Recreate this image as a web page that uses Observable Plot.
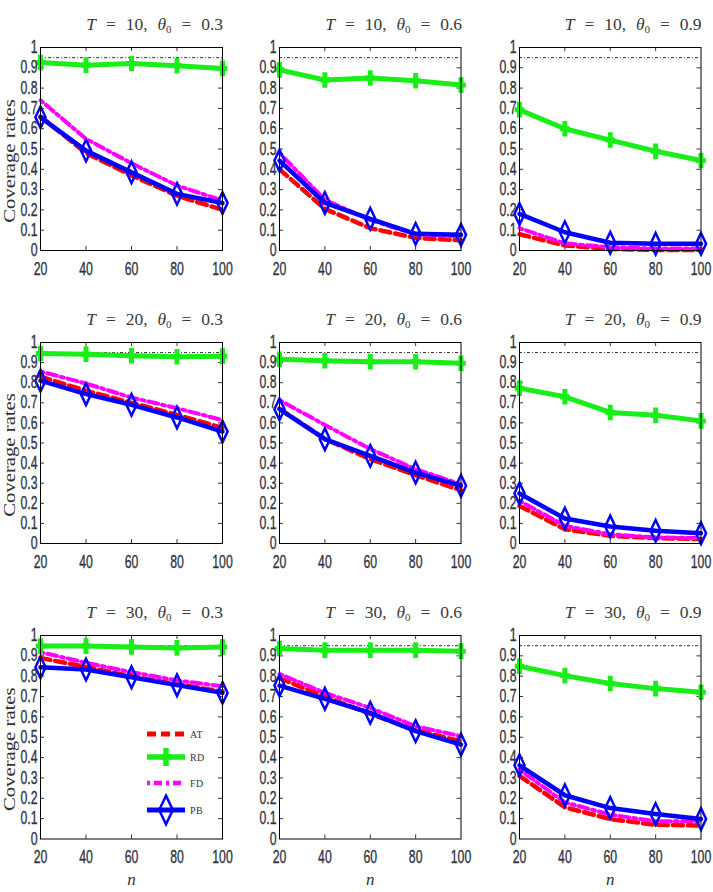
<!DOCTYPE html>
<html><head><meta charset="utf-8">
<script src="https://cdn.jsdelivr.net/npm/d3@7"></script>
<script src="https://cdn.jsdelivr.net/npm/@observablehq/plot@0.6"></script>
<style>
html,body{margin:0;padding:0;background:#fff;}
#root{position:relative;width:713px;height:892px;overflow:hidden;background:#fff;}
.panel{position:absolute;}
.panel svg{overflow:visible;}
.panel g[aria-label="y-axis tick label"] text, .panel g[aria-label="x-axis tick label"] text{stroke:#30343f;stroke-width:0.35px;}
.title{position:absolute;font-family:"Liberation Serif","DejaVu Serif",serif;font-size:17.5px;color:#3a3a3a;white-space:nowrap;transform:translateY(-50%);line-height:1;}
.title .sp{display:inline-block;width:5.5px;}
.title sub{font-size:11px;vertical-align:-3px;line-height:0;}
</style></head><body><div id="root"></div>
<script>
// ---- data ----
const nValues = [20, 40, 60, 80, 100];
const yTicks = [0, 0.1, 0.2, 0.3, 0.4, 0.5, 0.6, 0.7, 0.8, 0.9, 1];
const Tvals = [10, 20, 30];
const thetaVals = [0.3, 0.6, 0.9];
const nominal = 0.95;
const methods = ["AT", "RD", "FD", "PB"];
// rows: T=10 (θ0=0.3,0.6,0.9), T=20 (...), T=30 (...)
const AT = [
  [0.66, 0.48, 0.37, 0.27, 0.20],
  [0.40, 0.205, 0.11, 0.062, 0.05],
  [0.08, 0.025, 0.008, 0.003, 0.003],
  [0.83, 0.76, 0.70, 0.64, 0.575],
  [0.67, 0.52, 0.42, 0.34, 0.265],
  [0.187, 0.071, 0.038, 0.027, 0.022],
  [0.89, 0.845, 0.80, 0.76, 0.725],
  [0.79, 0.70, 0.615, 0.535, 0.48],
  [0.31, 0.156, 0.098, 0.07, 0.066]
];
const RD = [
  [0.926, 0.913, 0.921, 0.91, 0.897],
  [0.89, 0.84, 0.85, 0.836, 0.815],
  [0.693, 0.60, 0.544, 0.489, 0.443],
  [0.945, 0.942, 0.934, 0.929, 0.932],
  [0.917, 0.909, 0.904, 0.904, 0.897],
  [0.773, 0.73, 0.652, 0.638, 0.61],
  [0.948, 0.948, 0.944, 0.939, 0.943],
  [0.936, 0.928, 0.928, 0.928, 0.923],
  [0.849, 0.803, 0.764, 0.739, 0.721]
];
const FD = [
  [0.74, 0.55, 0.43, 0.32, 0.246],
  [0.48, 0.25, 0.15, 0.08, 0.07],
  [0.11, 0.035, 0.016, 0.01, 0.01],
  [0.856, 0.796, 0.726, 0.673, 0.614],
  [0.713, 0.59, 0.47, 0.37, 0.295],
  [0.212, 0.088, 0.046, 0.03, 0.027],
  [0.918, 0.866, 0.82, 0.779, 0.751],
  [0.811, 0.718, 0.644, 0.554, 0.505],
  [0.34, 0.18, 0.12, 0.087, 0.087]
];
const PB = [
  [0.656, 0.492, 0.385, 0.279, 0.234],
  [0.443, 0.234, 0.156, 0.082, 0.077],
  [0.18, 0.09, 0.038, 0.033, 0.033],
  [0.81, 0.743, 0.69, 0.627, 0.557],
  [0.668, 0.519, 0.436, 0.353, 0.287],
  [0.249, 0.124, 0.085, 0.063, 0.051],
  [0.844, 0.833, 0.795, 0.756, 0.718],
  [0.754, 0.689, 0.62, 0.53, 0.464],
  [0.362, 0.215, 0.152, 0.123, 0.098]
];

// ---- styles ----
const RED = "#ff0000", GREEN = "#19ee19", MAG = "#ff00ff", BLUE = "#0000ff";
const tallPlus = {draw(ctx, size) {
  const r = Math.sqrt(size / Math.PI);
  ctx.moveTo(-r * 0.8, 0); ctx.lineTo(r * 0.8, 0);
  ctx.moveTo(0, -r * 1.3); ctx.lineTo(0, r * 1.3);
}};
const tallDiamond = {draw(ctx, size) {
  const r = Math.sqrt(size / Math.PI);
  ctx.moveTo(0, -r * 1.8); ctx.lineTo(r * 0.85, 0); ctx.lineTo(0, r * 1.8); ctx.lineTo(-r * 0.85, 0); ctx.closePath();
}};

function squeeze(nodes, sx, sy) {
  nodes.forEach(el => {
    const t = el.getAttribute("transform") || "";
    const x = +el.getAttribute("x") || 0, y = +el.getAttribute("y") || 0;
    el.setAttribute("transform", `${t} translate(${x},${y}) scale(${sx},${sy}) translate(${-x},${-y})`);
  });
}

const root = document.getElementById("root");
const colLeft = [39.5, 279, 518.5], colRight = [221.5, 460.5, 700];
const rowTop = [47, 342, 634.5], rowBottom = [250, 543, 838];
const mL = 40, mR = 8, mT = 10;

for (let r = 0; r < 3; r++) for (let c = 0; c < 3; c++) {
  const k = r * 3 + c;
  const fw = colRight[c] - colLeft[c], fh = rowBottom[r] - rowTop[r];
  const mB = r === 2 ? 56 : 34;
  const rows = vals => nValues.map((n, i) => ({n, v: vals[k][i]}));
  const at = rows(AT), rd = rows(RD), fd = rows(FD), pb = rows(PB);
  const inner = yTicks.slice(1, -1), innerX = nValues.slice(1, -1);
  const marks = [
    Plot.ruleY([nominal], {stroke: "black", strokeWidth: 0.8, strokeDasharray: "3,2,1,2"}),
    Plot.tickY(inner, {y: d => d, stroke: "black", strokeWidth: 0.8, insetRight: fw - 4}),
    Plot.tickY(inner, {y: d => d, stroke: "black", strokeWidth: 0.8, insetLeft: fw - 4}),
    Plot.tickX(innerX, {x: d => d, stroke: "black", strokeWidth: 0.8, insetBottom: fh - 4}),
    Plot.tickX(innerX, {x: d => d, stroke: "black", strokeWidth: 0.8, insetTop: fh - 4}),
    Plot.line(at, {x: "n", y: "v", stroke: RED, strokeWidth: 4.5, strokeDasharray: "10,5"}),
    Plot.line(fd, {x: "n", y: "v", stroke: MAG, strokeWidth: 4, strokeDasharray: "3,4,10,4"}),
    Plot.line(rd, {x: "n", y: "v", stroke: GREEN, strokeWidth: 5}),
    Plot.dot(rd, {x: "n", y: "v", symbol: tallPlus, r: 6, stroke: GREEN, strokeWidth: 5, fill: "none"}),
    Plot.line(pb, {x: "n", y: "v", stroke: BLUE, strokeWidth: 4.5}),
    Plot.dot(pb, {x: "n", y: "v", symbol: tallDiamond, r: 6, stroke: BLUE, strokeWidth: 2.5, fill: "none"}),
    Plot.frame({stroke: "black", strokeWidth: 1}),
    Plot.axisY({ticks: yTicks, tickSize: 0, tickPadding: 3, label: null, fontSize: 17.5, tickFormat: d => String(+d.toFixed(1))}),
    Plot.axisX({ticks: nValues, tickSize: 0, tickPadding: 12, label: null, fontSize: 17.5})
  ];
  if (c === 0) marks.push(Plot.text(["Coverage rates"], {frameAnchor: "left", textAnchor: "middle", rotate: -90, dx: -31, dy: 12,
    fontFamily: "Liberation Serif, DejaVu Serif, serif", fontSize: 17, fill: "#333", className: "ylab"}));
  if (r === 2) marks.push(Plot.text(["n"], {frameAnchor: "bottom", dy: 46,
    fontFamily: "Liberation Serif, DejaVu Serif, serif", fontSize: 17, fontStyle: "italic", fill: "#333"}));
  const svg = Plot.plot({
    width: mL + fw + mR, height: mT + fh + mB,
    marginLeft: mL, marginRight: mR, marginTop: mT, marginBottom: mB,
    x: {domain: [20, 100]}, y: {domain: [0, 1]},
    style: {background: "transparent", fontFamily: "Liberation Sans, Arial, sans-serif", fontSize: "17.5px", color: "#30343f", overflow: "visible"},
    marks
  });
  squeeze([...svg.querySelectorAll('g[aria-label="y-axis tick label"] text, g[aria-label="x-axis tick label"] text')], 0.7, 1);
  squeeze([...svg.querySelectorAll('g.ylab text')], 1.22, 1);
  const div = document.createElement("div");
  div.className = "panel";
  div.style.left = (colLeft[c] - mL) + "px";
  div.style.top = (rowTop[r] - mT) + "px";
  div.appendChild(svg);
  root.appendChild(div);

  const t = document.createElement("div");
  t.className = "title";
  t.style.right = (713 - colRight[c] - 1.5) + "px";
  t.style.top = (rowTop[r] - 22) + "px";
  t.innerHTML = `<i>T</i><span class="sp"></span> = <span class="sp"></span>${Tvals[r]}, <span class="sp"></span><i>θ</i><sub>0</sub><span class="sp"></span> = <span class="sp"></span>${thetaVals[c]}`;
  root.appendChild(t);
}

// ---- legend (inside bottom-left panel) ----
const styles = {
  AT: {stroke: RED, width: 5, dash: "9,5", sym: null},
  RD: {stroke: GREEN, width: 5.5, dash: null, sym: tallPlus, sw: 5.5, size: 7},
  FD: {stroke: MAG, width: 4.5, dash: "3,4,8,4", sym: null},
  PB: {stroke: BLUE, width: 5, dash: null, sym: tallDiamond, sw: 2.5, size: 8}
};
const leg = d3.select(root).append("svg").attr("width", 713).attr("height", 892)
  .style("position", "absolute").style("left", 0).style("top", 0).style("pointer-events", "none");
const legY = [734, 757, 783, 810];
methods.forEach((m, i) => {
  const s = styles[m], g = leg.append("g").attr("transform", `translate(147,${legY[i]})`);
  g.append("line").attr("x1", 0).attr("x2", 38).attr("stroke", s.stroke).attr("stroke-width", s.width)
    .attr("stroke-dasharray", s.dash);
  if (s.sym) g.append("path").attr("transform", "translate(19,0)")
    .attr("d", d3.symbol(s.sym, Math.PI * s.size * s.size)()).attr("fill", "none").attr("stroke", s.stroke).attr("stroke-width", s.sw);
  g.append("text").attr("x", 43).attr("y", 4).attr("font-family", "Liberation Serif, DejaVu Serif, serif")
    .attr("font-size", 10).attr("letter-spacing", 0.4).attr("fill", "#333").text(m);
});
</script></body></html>
